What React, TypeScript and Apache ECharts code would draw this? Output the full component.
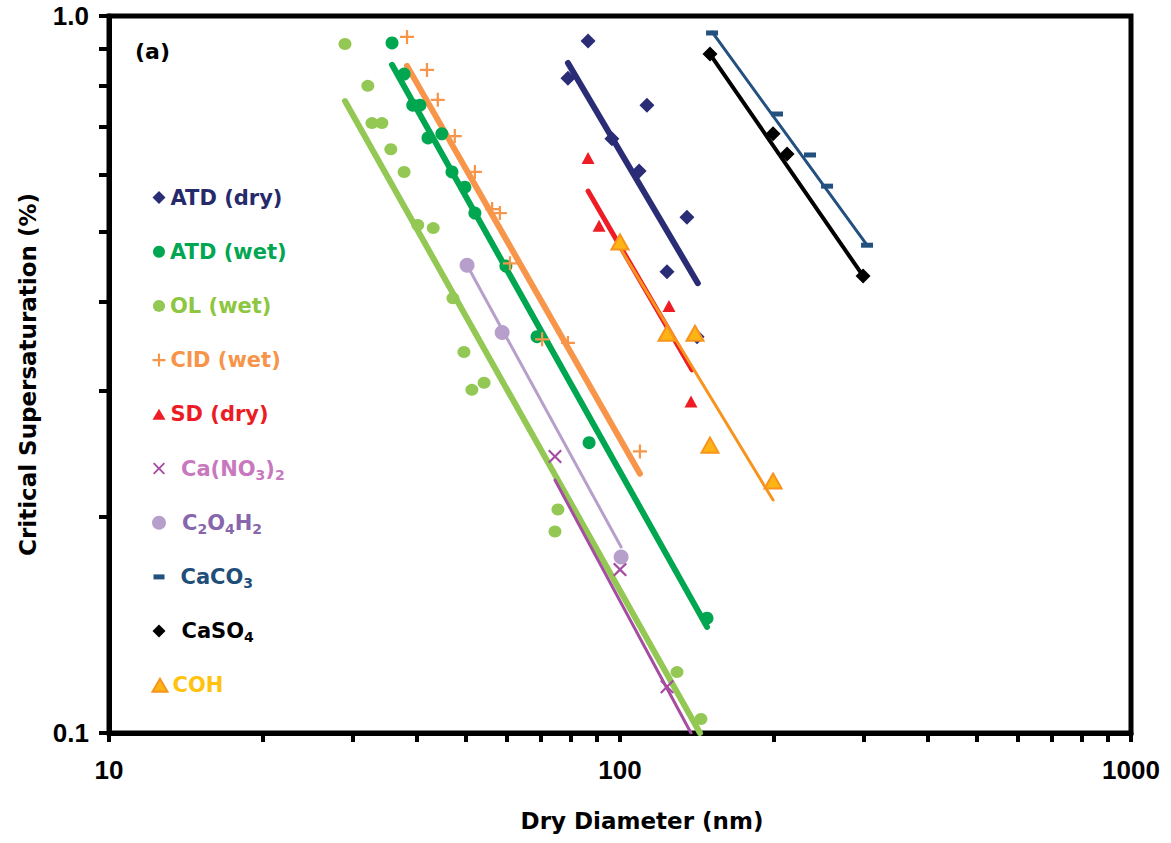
import React, { useEffect, useRef } from 'react';
import * as echarts from 'echarts';

// ---- data (dry diameter nm, critical supersaturation %) ----
const atdDry = [[86.6, 0.923], [79.1, 0.819], [112.9, 0.751], [96.4, 0.674], [109, 0.608], [135.2, 0.524], [123.6, 0.44], [141.5, 0.357]];
const atdDryFit = [[79.1, 0.86], [142, 0.424]];
const atdWet = [[35.8, 0.917], [37.8, 0.83], [39.3, 0.751], [40.6, 0.751], [42.1, 0.676], [44.8, 0.685], [46.9, 0.606], [49.7, 0.577], [52.0, 0.531], [59.8, 0.448], [68.8, 0.357], [87.0, 0.254], [148, 0.1446]];
const atdWetFit = [[35.8, 0.855], [148, 0.1406]];
const olWet = [[28.96, 0.914], [32.1, 0.799], [32.7, 0.709], [34.2, 0.709], [35.6, 0.652], [37.8, 0.606], [40.2, 0.511], [43.1, 0.506], [47.1, 0.404], [49.5, 0.34], [51.3, 0.301], [54.2, 0.308], [75.6, 0.205], [74.6, 0.191], [129.3, 0.1216], [144, 0.1046]];
const olWetFit = [[28.96, 0.761], [143.4, 0.1]];
const cldWet = [[38.3, 0.935], [41.9, 0.841], [44.0, 0.764], [47.5, 0.68], [52.0, 0.606], [56.2, 0.538], [58.2, 0.531], [60.9, 0.452], [70.4, 0.354], [79.1, 0.35], [109.4, 0.247]];
const cldWetFit = [[38.3, 0.852], [109.4, 0.23]];
const sdDry = [[86.6, 0.634], [91.0, 0.51], [124.7, 0.394], [137.7, 0.29]];
const sdDryFit = [[86.6, 0.57], [138.3, 0.321]];
const caNO3 = [[74.6, 0.243], [100, 0.169], [123.6, 0.116]];
const caNO3Fit = [[74.6, 0.2253], [137.7, 0.1]];
const oxalic = [[50.2, 0.449], [58.8, 0.362], [100.5, 0.176]];
const oxalicFit = [[50.2, 0.449], [100.5, 0.1817]];
const caCO3 = [[151.4, 0.947], [202.9, 0.73], [235.4, 0.64], [254.2, 0.579], [304.4, 0.479]];
const caCO3Fit = [[151.4, 0.95], [304.4, 0.479]];
const caSO4 = [[150, 0.885], [199.3, 0.685], [212.3, 0.642], [299, 0.434]];
const caSO4Fit = [[150, 0.885], [299, 0.434]];
const coh = [[100, 0.484], [123.6, 0.361], [140.2, 0.361], [150, 0.252], [199.3, 0.2246]];
const cohFit = [[100, 0.475], [199.3, 0.2113]];

const xTickValues = [10, 20, 30, 40, 50, 60, 70, 80, 90, 100, 200, 300, 400, 500, 600, 700, 800, 900, 1000];
const yTickValues = [0.1, 0.2, 0.3, 0.4, 0.5, 0.6, 0.7, 0.8, 0.9, 1.0];

const FONT = 'DejaVu Sans';
const PLUS = 'path://M4.2,0H5.8V4.2H10V5.8H5.8V10H4.2V5.8H0V4.2H4.2Z';
const CROSS = 'path://M0,1.1L1.1,0L5,3.9L8.9,0L10,1.1L6.1,5L10,8.9L8.9,10L5,6.1L1.1,10L0,8.9L3.9,5Z';

const C = {
  navy: '#2A2C76', green: '#00A650', lgreen: '#92C853', orange: '#F7964A', red: '#EE1C25',
  caNO3: '#A64CA2', oxalic: '#B79FCB', caCO3: '#22507F', caSO4: '#000000', cohFill: '#FDB515', cohLine: '#F7941D',
};

function rich(color: string) {
  return {
    n: { fontFamily: FONT, fontWeight: 'bold', fontSize: 21, color, lineHeight: 26 },
    p: { fontFamily: FONT, fontWeight: 'bold', fontSize: 21, color, lineHeight: 26, padding: [0, 0, 0, 11] },
    s: { fontFamily: FONT, fontWeight: 'bold', fontSize: 14, color, lineHeight: 11, verticalAlign: 'bottom' },
  };
}

const legendItems = [
  { name: 'ATD (dry)', icon: 'diamond', w: 13, h: 13, color: '#262A6B', text: '{n|ATD (dry)}' },
  { name: 'ATD (wet)', icon: 'circle', w: 12, h: 12, color: '#00A651', text: '{n|ATD (wet)}' },
  { name: 'OL (wet)', icon: 'circle', w: 12, h: 12, color: '#8DC63F', text: '{n|OL (wet)}' },
  { name: 'ClD (wet)', icon: PLUS, w: 13, h: 13, color: '#F7944A', text: '{n|ClD (wet)}' },
  { name: 'SD (dry)', icon: 'triangle', w: 13, h: 11, color: '#ED1C24', text: '{n|SD (dry)}' },
  { name: 'Ca(NO3)2', icon: CROSS, w: 12, h: 12, color: '#C878BE', text: '{p|Ca(NO}{s|3}{n|)}{s|2}' },
  { name: 'C2O4H2', icon: 'circle', w: 14, h: 14, color: '#8766AC', text: '{p|C}{s|2}{n|O}{s|4}{n|H}{s|2}' },
  { name: 'CaCO3', icon: 'rect', w: 11, h: 5, color: '#1F4E79', text: '{p|CaCO}{s|3}' },
  { name: 'CaSO4', icon: 'diamond', w: 13, h: 13, color: '#000000', text: '{p|CaSO}{s|4}' },
  { name: 'COH', icon: 'triangle', w: 15, h: 13, color: '#FFC20E', text: '{n|COH}' },
];

function scatter(name: string, data: number[][], symbol: string, size: any, itemStyle: any) {
  return { type: 'scatter', name, data, symbol, symbolSize: size, itemStyle: { opacity: 1, ...itemStyle }, z: 5 };
}
function fit(name: string, data: number[][], color: string, width: number) {
  return {
    type: 'line', name, data, symbol: 'none', silent: true, z: 3,
    lineStyle: { color, width, cap: 'round' }, itemStyle: { color },
  };
}

export default function App() {
  const ref = useRef<HTMLDivElement>(null);
  useEffect(() => {
    const chart = echarts.init(ref.current as HTMLDivElement, null, { renderer: 'svg' });
    const option: any = {
      animation: false,
      backgroundColor: '#fff',
      grid: { left: 109, right: 40, top: 16, bottom: 110, show: true, borderColor: '#000', borderWidth: 5 },
      xAxis: {
        type: 'log', logBase: 10, min: 10, max: 1000,
        name: 'Dry Diameter (nm)', nameLocation: 'middle', nameGap: 76,
        nameTextStyle: { fontFamily: FONT, fontWeight: 'bold', fontSize: 23, color: '#000', padding: [0, 0, 0, 44] },
        axisLine: { show: true, lineStyle: { color: '#000', width: 5 } },
        axisTick: { show: true, inside: false, length: 9, lineStyle: { color: '#000', width: 4 }, customValues: xTickValues },
        axisLabel: {
          fontFamily: 'Liberation Sans', fontWeight: 'bold', fontSize: 26, color: '#000', margin: 24,
          formatter: (v: number) => String(Math.round(v)),
        },
        splitLine: { show: false },
      },
      yAxis: {
        type: 'log', logBase: 10, min: 0.1, max: 1,
        name: 'Critical Supersaturation (%)', nameLocation: 'middle', nameRotate: 90, nameGap: 70,
        nameTextStyle: { fontFamily: FONT, fontWeight: 'bold', fontSize: 23, color: '#000' },
        axisLine: { show: true, lineStyle: { color: '#000', width: 5 } },
        axisTick: { show: true, inside: false, length: 10, lineStyle: { color: '#000', width: 4 }, customValues: yTickValues },
        axisLabel: {
          fontFamily: 'Liberation Sans', fontWeight: 'bold', fontSize: 26, color: '#000', margin: 20,
          formatter: (v: number) => Number(v).toFixed(1),
        },
        splitLine: { show: false },
      },
      legend: legendItems.map((it, i) => ({
        left: 159 - it.w / 2, top: 187 + i * 54.2,
        itemWidth: it.w, itemHeight: it.h, itemGap: 0, padding: 0,
        data: [{ name: it.name, icon: it.icon }],
        formatter: () => it.text,
        textStyle: { fontFamily: FONT, fontWeight: 'bold', fontSize: 21, color: it.color, rich: rich(it.color) },
      })),
      graphic: [
        { type: 'text', left: 135, top: 40, style: { text: '(a)', font: 'bold 22px "DejaVu Sans"', fill: '#000' } },
      ],
      series: [
        fit('ATD (dry) fit', atdDryFit, C.navy, 6),
        fit('ATD (wet) fit', atdWetFit, C.green, 6),
        fit('OL (wet) fit', olWetFit, C.lgreen, 6),
        fit('ClD (wet) fit', cldWetFit, C.orange, 6),
        fit('SD (dry) fit', sdDryFit, C.red, 5),
        fit('Ca(NO3)2 fit', caNO3Fit, C.caNO3, 3),
        fit('C2O4H2 fit', oxalicFit, C.oxalic, 3),
        fit('CaCO3 fit', caCO3Fit, C.caCO3, 3),
        fit('CaSO4 fit', caSO4Fit, C.caSO4, 4),
        fit('COH fit', cohFit, C.cohLine, 3),
        scatter('ATD (dry)', atdDry, 'diamond', 15, { color: C.navy }),
        scatter('ATD (wet)', atdWet, 'circle', 13, { color: C.green }),
        scatter('OL (wet)', olWet, 'circle', [13, 12], { color: C.lgreen }),
        scatter('ClD (wet)', cldWet, PLUS, 14, { color: C.orange }),
        scatter('SD (dry)', sdDry, 'triangle', [13, 12], { color: C.red }),
        scatter('Ca(NO3)2', caNO3, CROSS, 14, { color: C.caNO3 }),
        scatter('C2O4H2', oxalic, 'circle', 15, { color: C.oxalic }),
        scatter('CaCO3', caCO3, 'rect', [12, 5], { color: C.caCO3 }),
        scatter('CaSO4', caSO4, 'diamond', 15, { color: C.caSO4 }),
        scatter('COH', coh, 'triangle', [17, 15], { color: C.cohFill, borderColor: C.cohLine, borderWidth: 2 }),
      ],
    };
    chart.setOption(option);
    return () => chart.dispose();
  }, []);
  return <div ref={ref} style={{ position: 'fixed', left: 0, top: 0, width: 1171, height: 843, background: '#fff' }} />;
}
